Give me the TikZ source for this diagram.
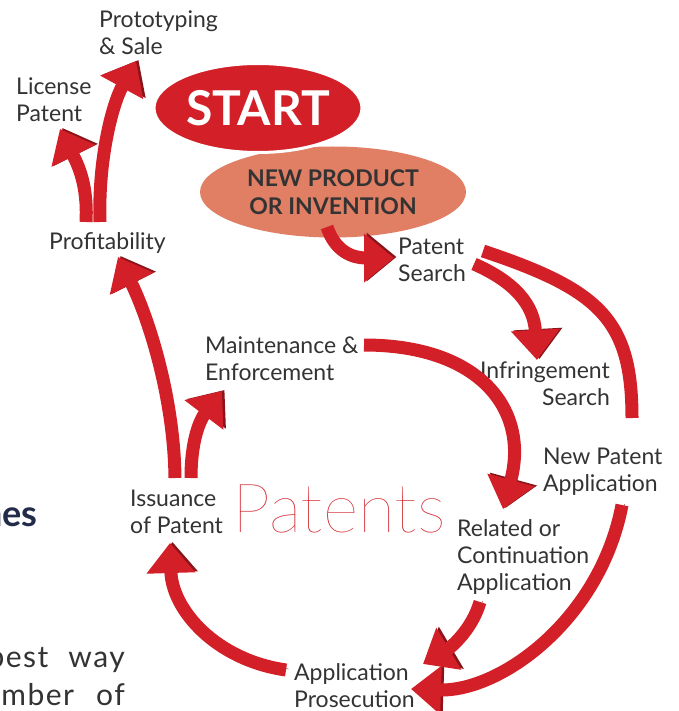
\documentclass[tikz,border=0pt]{standalone}
\usepackage{fontspec}
\setmainfont{Lato}
\IfFontExistsTF{Lato Thin}{\newfontfamily\latolight{Lato Thin}}{\newfontfamily\latolight{Lato Light}}
\usetikzlibrary{arrows.meta,shapes.geometric}

\begin{document}
\begin{tikzpicture}[x=1pt,y=-1pt,
	lbl/.style={inner sep=0pt,anchor=north west,align=left,text=textgray,font=\fontsize{23pt}{27pt}\selectfont},
	side/.style={anchor=base east,inner sep=0pt,text=textgray,font=\addfontfeature{LetterSpace=5}\fontsize{30pt}{30pt}\selectfont},
	band/.style={draw=flowred,line width=13pt,preaction={draw=flowdark,transform canvas={shift={(2.5pt,1pt)}}}},
	flow/.style={band,-{Triangle[length=30pt,width=47pt]}}]
\definecolor{flowred}{RGB}{210,31,40}
\definecolor{flowdark}{RGB}{138,20,26}
\definecolor{salmon}{RGB}{225,127,100}
\definecolor{textgray}{RGB}{51,51,51}
\definecolor{navy}{RGB}{35,43,74}
	\useasboundingbox (0,0) rectangle (678,711);
	\fill[white] (0,0) rectangle (678,711);
	\node[ellipse,fill=salmon,inner sep=0pt,minimum width=266pt,minimum height=91pt,align=center,text=textgray,font=\bfseries\fontsize{23pt}{28pt}\selectfont] (newprod) at (333,192) {NEW PRODUCT\\OR INVENTION};
	\node[ellipse,fill=flowred,draw=white,line width=3pt,inner sep=0pt,minimum width=208pt,minimum height=89pt,text=white,font=\bfseries\fontsize{48pt}{48pt}\selectfont] (start) at (258,108) {START};
	\node[lbl] (proto) at (99,11) {Prototyping\\\& Sale};
	\node[lbl] (license) at (16,78) {License\\Patent};
	\node[lbl] (profit) at (49,232) {Profitability};
	\node[lbl] (psearch) at (398,238) {Patent\\Search};
	\node[lbl] (maint) at (205,337) {Maintenance \&\\Enforcement};
	\node[lbl,anchor=north east,align=right] (infr) at (610,362) {Infringement\\Search};
	\node[lbl] (newapp) at (543,448) {New Patent\\Application};
	\node[lbl] (issue) at (130,490) {Issuance\\of Patent};
	\node[lbl] (related) at (457,519) {Related or\\Continuation\\Application};
	\node[lbl] (prosec) at (294,663) {Application\\Prosecution};
	\node[anchor=base west,inner sep=0pt,text=flowred,font=\latolight\fontsize{68pt}{68pt}\selectfont] (patents) at (232,532) {Patents};
	\node[anchor=base east,inner sep=0pt,text=navy,font=\bfseries\fontsize{36pt}{36pt}\selectfont] (nes) at (38,526) {nes};
	\node[side] (bestway) at (125,667) {best\hskip20pt way};
	\node[side] (numberof) at (125,705) {number\hskip22pt of};
	\draw[flow] ([shift={(-6,35)}]newprod.center) .. controls +(8,24) and +(-42,0) .. ([shift={(-4,20)}]psearch.north west);
	\draw[flow] ([shift={(76,26)}]psearch.north west) .. controls +(41,18) and +(-3,-55) .. ([shift={(-73,-2)}]infr.north east);
	\draw[band] ([shift={(85,13)}]psearch.north west) .. controls +(117,39) and +(0,-98) .. ([shift={(89,-30)}]newapp.north west);
	\draw[flow] ([shift={(159,8)}]maint.north west) .. controls +(116,0) and +(27,-99) .. ([shift={(46,-10)}]related.north west);
	\draw[flow] ([shift={(79,57)}]newapp.north west) .. controls +(-22,115) and +(89,3) .. ([shift={(117,26)}]prosec.north west);
	\draw[flow] ([shift={(23,83)}]related.north west) .. controls +(-8,28) and +(27,-16) .. ([shift={(129,1)}]prosec.north west);
	\draw[flow] ([shift={(-8,7)}]prosec.north west) .. controls +(-70,-10) and +(2,67) .. ([shift={(40,53)}]issue.north west);
	\draw[flow] ([shift={(45,-12)}]issue.north west) .. controls +(-1,-85) and +(28,55) .. ([shift={(69,25)}]profit.north west);
	\draw[flow] ([shift={(61,-12)}]issue.north west) .. controls +(0,-38) and +(-22,29) .. ([shift={(17,54)}]maint.north west);
	\draw[flow] ([shift={(37,-10)}]profit.north west) .. controls +(2,-37) and +(18,36) .. ([shift={(44,51)}]license.north west);
	\draw[flow] ([shift={(51,-10)}]profit.north west) .. controls +(-2,-62) and +(-24,44) .. ([shift={(37,50)}]proto.north west);
\end{tikzpicture}
\end{document}
